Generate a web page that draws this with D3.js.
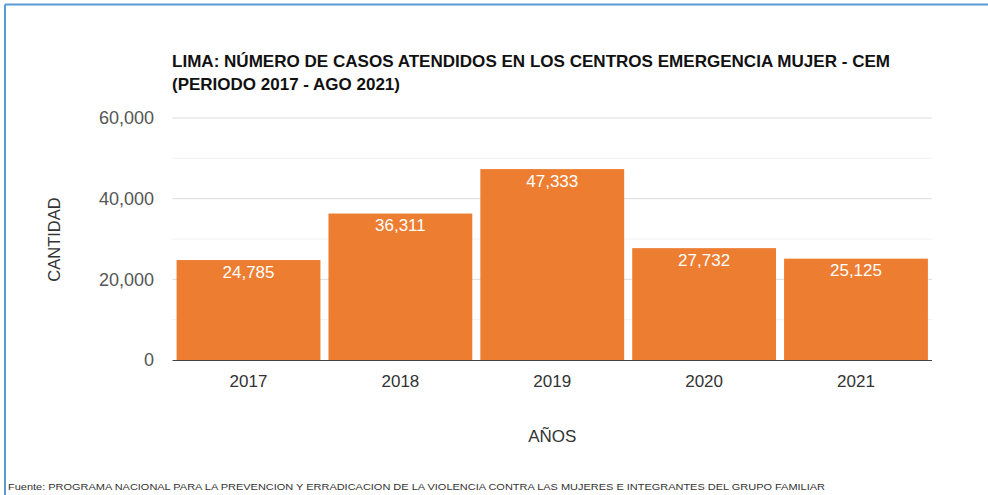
<!DOCTYPE html>
<html>
<head>
<meta charset="utf-8">
<script src="https://cdn.jsdelivr.net/npm/d3@7"></script>
<style>
	body { margin: 0; background: #fff; }
	svg { display: block; font-family: "Liberation Sans", Arial, sans-serif; }
</style>
</head>
<body>
<svg id="chart" width="988" height="495"></svg>
<script>
//Data
const YEARS = ["2017", "2018", "2019", "2020", "2021"];
const CASES = [24785, 36311, 47333, 27732, 25125];
const Y_TICKS = [0, 20000, 40000, 60000];
const Y_MINOR = [10000, 30000, 50000];
const TITLE_1 = "LIMA: NÚMERO DE CASOS ATENDIDOS EN LOS CENTROS EMERGENCIA MUJER - CEM";
const TITLE_2 = "(PERIODO 2017 - AGO 2021)";
const SOURCE = "Fuente: PROGRAMA NACIONAL PARA LA PREVENCION Y ERRADICACION DE LA VIOLENCIA CONTRA LAS MUJERES E INTEGRANTES DEL GRUPO FAMILIAR";

const BAR_COLOR = "#ED7D31";

const svg = d3.select("#chart");
const data = YEARS.map((y, i) => ({ year: y, value: CASES[i] }));

// frame (blue border top + left)
svg.append("line").attr("x1", 5).attr("x2", 988).attr("y1", 4.5).attr("y2", 4.5)
	.attr("stroke", "#5B9BD5").attr("stroke-width", 2);
svg.append("line").attr("x1", 5).attr("x2", 5).attr("y1", 4.5).attr("y2", 495)
	.attr("stroke", "#5B9BD5").attr("stroke-width", 2);

const xScale = d3.scaleBand().domain(YEARS).range([172.5, 932])
	.paddingInner(0.053).paddingOuter(0.027);
const yScale = d3.scaleLinear().domain([0, 60000]).range([360, 118]);

// gridlines
svg.append("g").selectAll("line").data(Y_MINOR).enter().append("line")
	.attr("x1", 172.5).attr("x2", 932)
	.attr("y1", d => yScale(d)).attr("y2", d => yScale(d))
	.attr("stroke", "#f0f0f0").attr("stroke-width", 1);
svg.append("g").selectAll("line").data(Y_TICKS.filter(d => d > 0)).enter().append("line")
	.attr("x1", 172.5).attr("x2", 932)
	.attr("y1", d => yScale(d)).attr("y2", d => yScale(d))
	.attr("stroke", "#dcdcdc").attr("stroke-width", 1);

// y axis labels
const yAxis = svg.append("g")
	.attr("transform", "translate(172,0)")
	.call(d3.axisLeft(yScale).tickValues(Y_TICKS).tickSize(0).tickPadding(18)
		.tickFormat(d3.format(",")));
yAxis.select(".domain").remove();
yAxis.selectAll("text").attr("font-size", "18px").attr("fill", "#555")
	.attr("font-family", "Liberation Sans, Arial, sans-serif");

// bars
svg.append("g").selectAll("rect").data(data).enter().append("rect")
	.attr("x", d => xScale(d.year))
	.attr("y", d => yScale(d.value))
	.attr("width", xScale.bandwidth())
	.attr("height", d => yScale(0) - yScale(d.value))
	.attr("fill", BAR_COLOR);

// value labels
svg.append("g").selectAll("text").data(data).enter().append("text")
	.attr("x", d => xScale(d.year) + xScale.bandwidth() / 2)
	.attr("y", d => yScale(d.value) + 17.5)
	.attr("text-anchor", "middle")
	.attr("font-size", "17px")
	.attr("fill", "#fff")
	.text(d => d3.format(",")(d.value));

// baseline
svg.append("line").attr("x1", 172.5).attr("x2", 932)
	.attr("y1", yScale(0) + 0.5).attr("y2", yScale(0) + 0.5)
	.attr("stroke", "#444").attr("stroke-width", 1);

// x axis labels
const xAxis = svg.append("g")
	.attr("transform", "translate(0," + yScale(0) + ")")
	.call(d3.axisBottom(xScale).tickSize(0).tickPadding(14.5));
xAxis.select(".domain").remove();
xAxis.selectAll("text").attr("font-size", "17px").attr("fill", "#333")
	.attr("font-family", "Liberation Sans, Arial, sans-serif");

// axis titles
svg.append("text")
	.attr("x", (172.5 + 932) / 2).attr("y", 442)
	.attr("text-anchor", "middle").attr("font-size", "17px").attr("fill", "#333")
	.text("AÑOS");
svg.append("text")
	.attr("transform", "translate(60,239.5) rotate(-90)")
	.attr("text-anchor", "middle").attr("font-size", "16.5px").attr("fill", "#333")
	.text("CANTIDAD");

// title
svg.append("text").attr("x", 172).attr("y", 67)
	.attr("font-size", "16.5px").attr("font-weight", "bold").attr("fill", "#111")
	.attr("textLength", 718).attr("lengthAdjust", "spacingAndGlyphs")
	.text(TITLE_1);
svg.append("text").attr("x", 172).attr("y", 90)
	.attr("font-size", "16.5px").attr("font-weight", "bold").attr("fill", "#111")
	.attr("textLength", 228).attr("lengthAdjust", "spacingAndGlyphs")
	.text(TITLE_2);

// source
svg.append("text").attr("x", 8).attr("y", 490)
	.attr("font-size", "9px").attr("fill", "#333")
	.attr("textLength", 817).attr("lengthAdjust", "spacingAndGlyphs")
	.text(SOURCE);
</script>
</body>
</html>
